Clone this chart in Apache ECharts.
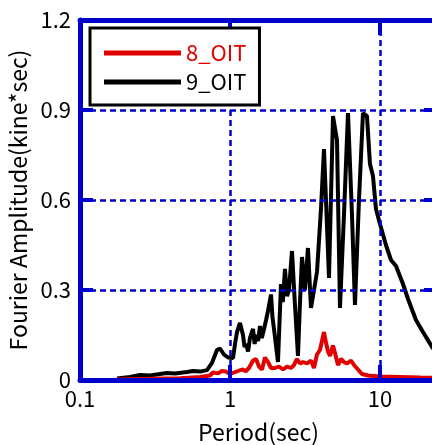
<!DOCTYPE html>
<html>
<head>
<meta charset="utf-8">
<script src="https://cdn.jsdelivr.net/npm/echarts@6/dist/echarts.min.js"></script>
<style>
  html, body { margin: 0; padding: 0; background: #ffffff; }
  #chart { width: 432px; height: 445px; }
</style>
</head>
<body>
<div id="chart"></div>
<script>
// Fourier amplitude spectra of two records (period in sec, amplitude in kine*sec)
const seriesNames = ['8_OIT', '9_OIT'];
const periodTicks = [0.1, 1, 10];
const amplitudeTicks = [0, 0.3, 0.6, 0.9, 1.2];

const period9 = [0.1765, 0.2154, 0.2512, 0.2929, 0.3415, 0.3802, 0.4299, 0.5169, 0.5667, 0.631,
  0.7027, 0.7586, 0.819, 0.8577, 0.912, 0.9698, 1.047, 1.08, 1.114, 1.166, 1.221,
  1.25, 1.279, 1.32, 1.359, 1.424, 1.46, 1.491, 1.54, 1.585, 1.63, 1.686, 1.74, 1.792, 1.877, 1.92, 1.965, 2.089,
  2.188, 2.25, 2.326, 2.4, 2.474, 2.59, 2.712, 2.84, 2.93, 3.02, 3.162, 3.311, 3.467,
  3.631, 3.802, 4.043, 4.233, 4.365, 4.571, 4.861, 5.169, 5.412, 5.754,
  6.119, 6.507, 6.813, 7.244, 7.703, 8.19, 8.577, 8.98, 9.405, 10,
  10.96, 11.84, 12.79, 14.24, 15.38, 17.38, 19.35, 22.23, 23.99];
const amp9 = [0.005, 0.01, 0.017, 0.015, 0.02, 0.023, 0.022, 0.027, 0.03, 0.028,
  0.033, 0.057, 0.10, 0.105, 0.085, 0.075, 0.073, 0.12, 0.16, 0.19, 0.15,
  0.11, 0.12, 0.095, 0.14, 0.17, 0.12, 0.15, 0.13, 0.18, 0.14, 0.17, 0.20, 0.23, 0.285, 0.21, 0.17, 0.06,
  0.32, 0.26, 0.37, 0.28, 0.30, 0.43, 0.25, 0.08, 0.26, 0.41, 0.30, 0.44, 0.24,
  0.30, 0.36, 0.57, 0.77, 0.60, 0.34, 0.88, 0.80, 0.24, 0.55,
  0.89, 0.55, 0.25, 0.60, 0.89, 0.88, 0.72, 0.68, 0.57, 0.52,
  0.45, 0.40, 0.38, 0.32, 0.27, 0.20, 0.16, 0.11, 0.09];

const period8 = [0.1765, 0.2929, 0.4642, 0.631, 0.7356, 0.7702, 0.8318, 0.8845, 0.9405, 1.0,
  1.063, 1.131, 1.202, 1.279, 1.338, 1.424, 1.491, 1.561, 1.635, 1.711,
  1.792, 1.877, 1.995, 2.122, 2.257, 2.399, 2.551, 2.671, 2.797, 2.929,
  3.067, 3.261, 3.467, 3.631, 3.802, 3.981, 4.105, 4.233, 4.365, 4.501,
  4.642, 4.861, 5.012, 5.248, 5.495, 5.754, 6.026, 6.407, 6.709, 7.134,
  7.586, 8.318, 10, 13.59, 18.48, 23.99];
const amp8 = [0.002, 0.004, 0.006, 0.01, 0.015, 0.025, 0.022, 0.03, 0.028, 0.02,
  0.025, 0.03, 0.035, 0.03, 0.04, 0.065, 0.07, 0.045, 0.035, 0.075,
  0.06, 0.04, 0.04, 0.045, 0.035, 0.045, 0.04, 0.05, 0.07, 0.055,
  0.06, 0.055, 0.065, 0.04, 0.085, 0.10, 0.13, 0.16, 0.125, 0.095,
  0.08, 0.115, 0.09, 0.05, 0.07, 0.06, 0.055, 0.065, 0.05, 0.035,
  0.02, 0.015, 0.012, 0.01, 0.008, 0.007];

const BLUE = '#0000cc';
const RED = '#e00000';
const FONT = '"Noto Sans CJK JP", "Noto Sans", sans-serif';

const zip = (xs, ys) => xs.map((x, i) => [x, ys[i]]);

function periodLabel(v) {
  const hit = periodTicks.find(t => Math.abs(Math.log10(v) - Math.log10(t)) < 1e-6);
  return hit === undefined ? '' : String(hit);
}

const axisLine = { show: true, onZero: false, lineStyle: { color: BLUE, width: 5 } };
const gridDash = { show: true, lineStyle: { color: BLUE, width: 2.5, type: [6, 4] } };

const chart = echarts.init(document.getElementById('chart'), null, { renderer: 'canvas' });

chart.setOption({
  animation: false,
  backgroundColor: '#ffffff',
  textStyle: { fontFamily: FONT },
  grid: { left: 80, top: 20, width: 357, height: 360, containLabel: false, outerBoundsMode: 'none' },
  legend: {
    orient: 'vertical',
    left: 90, top: 28,
    padding: [13, 13, 11, 14],
    itemGap: 5,
    itemWidth: 77, itemHeight: 5,
    icon: 'rect',
    backgroundColor: '#ffffff',
    borderColor: '#000000', borderWidth: 3, borderRadius: 0,
    textStyle: { fontSize: 22, fontFamily: FONT, lineHeight: 24 },
    data: [
      { name: seriesNames[0], textStyle: { color: RED } },
      { name: seriesNames[1], textStyle: { color: '#000000' } }
    ]
  },
  xAxis: [
    {
      type: 'log', logBase: 10, min: periodTicks[0], max: 24,
      position: 'bottom', z: 3,
      name: 'Period(sec)', nameLocation: 'middle', nameGap: 41,
      nameTextStyle: { fontSize: 23, color: '#000', fontFamily: FONT },
      axisLine,
      axisTick: { show: true, inside: true, length: 15, lineStyle: { color: BLUE, width: 4 } },
      axisLabel: { show: true, margin: 8, fontSize: 22, color: '#000', fontFamily: FONT, formatter: periodLabel },
      splitLine: gridDash,
      minorTick: { show: false }, minorSplitLine: { show: false }
    },
    {
      type: 'log', logBase: 10, min: periodTicks[0], max: 24,
      position: 'top', z: 3,
      axisLine,
      axisTick: { show: true, inside: true, length: 15, lineStyle: { color: BLUE, width: 4 } },
      axisLabel: { show: false },
      splitLine: { show: false }
    }
  ],
  yAxis: [
    {
      type: 'value', min: amplitudeTicks[0], max: amplitudeTicks[amplitudeTicks.length - 1], interval: 0.3,
      position: 'left', z: 3,
      name: 'Fourier Amplitude(kine*sec)', nameLocation: 'middle', nameGap: 39,
      nameTextStyle: { fontSize: 23, color: '#000', fontFamily: FONT },
      axisLine,
      axisTick: { show: true, inside: true, length: 13, lineStyle: { color: BLUE, width: 4 } },
      axisLabel: { show: true, margin: 9, fontSize: 22, color: '#000', fontFamily: FONT },
      splitLine: gridDash
    },
    {
      type: 'value', min: amplitudeTicks[0], max: amplitudeTicks[amplitudeTicks.length - 1], interval: 0.3,
      position: 'right', z: 3,
      axisLine,
      axisTick: { show: true, inside: true, length: 13, lineStyle: { color: BLUE, width: 4 } },
      axisLabel: { show: false },
      splitLine: { show: false }
    }
  ],
  series: [
    {
      name: seriesNames[1], type: 'line', xAxisIndex: 0, yAxisIndex: 0,
      data: zip(period9, amp9), symbol: 'none', z: 1,
      itemStyle: { color: '#000000' },
      lineStyle: { color: '#000000', width: 4 }
    },
    {
      name: seriesNames[0], type: 'line', xAxisIndex: 0, yAxisIndex: 0,
      data: zip(period8, amp8), symbol: 'none', z: 2,
      itemStyle: { color: RED },
      lineStyle: { color: RED, width: 4 }
    }
  ]
});
</script>
</body>
</html>
